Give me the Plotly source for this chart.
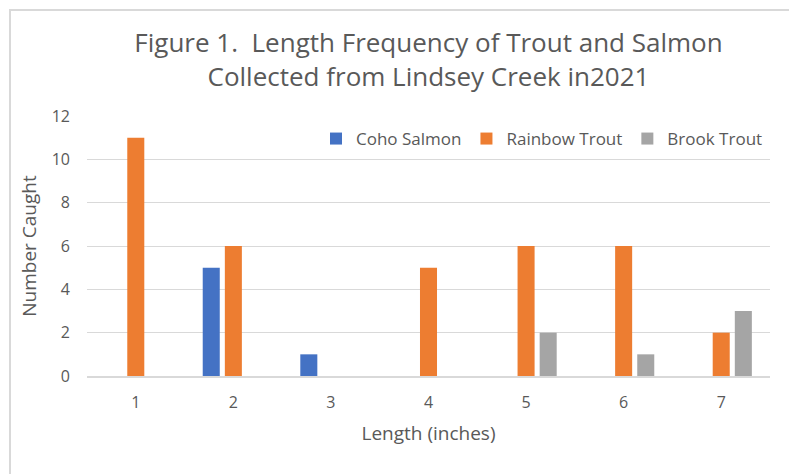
import plotly.graph_objects as go

categories = ["1", "2", "3", "4", "5", "6", "7"]
coho_salmon = [0, 5, 1, 0, 0, 0, 0]
rainbow_trout = [11, 6, 0, 5, 6, 6, 2]
brook_trout = [0, 0, 0, 0, 2, 1, 3]
y_ticks = [0, 2, 4, 6, 8, 10, 12]

FONT = "Open Sans"
TXT = "#595959"

fig = go.Figure()
fig.add_trace(go.Bar(name="Coho Salmon", x=categories, y=coho_salmon, marker_color="#4472C4", marker_line_width=0))
fig.add_trace(go.Bar(name="Rainbow Trout", x=categories, y=rainbow_trout, marker_color="#ED7D31", marker_line_width=0))
fig.add_trace(go.Bar(name="Brook Trout", x=categories, y=brook_trout, marker_color="#A5A5A5", marker_line_width=0))

W, H = 797, 474
OFF = 8  # page body margin
# plot area in screen pixels
SX0, SX1, SY0, SY1 = 87, 770, 116, 376
L, R, T, B = SX0 - OFF, W - (SX1 - OFF), SY0 - OFF, H - (SY1 - OFF)
pw, ph = SX1 - SX0, SY1 - SY0

def px_x(x):
    return (x - SX0) / pw

def px_y(y):
    return (SY1 - y) / ph

fig.update_layout(
    width=W, height=H,
    margin=dict(l=L, r=R, t=T, b=B, autoexpand=False),
    paper_bgcolor="white", plot_bgcolor="white",
    barmode="group", bargap=0.32, bargroupgap=0.23,
    font=dict(family=FONT, color=TXT, size=16),
    title=dict(
        text="Figure 1.  Length Frequency of Trout and Salmon<br>Collected from Lindsey Creek in2021",
        x=0.5, xanchor="center", xref="paper",
        y=1 - 44 / H, yanchor="top", yref="container",
        font=dict(family=FONT, size=26, color=TXT),
    ),
    legend=dict(
        orientation="h", x=px_x(768), xanchor="right", y=px_y(139), yanchor="middle",
        font=dict(size=17, color=TXT), bgcolor="rgba(0,0,0,0)",
    ),
    xaxis=dict(
        automargin=False,
        showgrid=False, showline=True, linecolor="#d9d9d9", linewidth=1.5,
        ticks="", ticklabelstandoff=11, tickfont=dict(size=16, color=TXT),
        title=dict(text="Length (inches)", font=dict(size=19, color=TXT), standoff=15),
    ),
    yaxis=dict(
        automargin=False,
        range=[0, 12], tickvals=y_ticks, showgrid=True, gridcolor="#d9d9d9", gridwidth=1,
        zeroline=False, showline=False, ticks="", ticklabelstandoff=16,
        tickfont=dict(size=16, color=TXT),
        title=dict(text="Number Caught", font=dict(size=19, color=TXT), standoff=10),
    ),
    shapes=[dict(
        type="rect", xref="paper", yref="paper",
        x0=px_x(10), x1=px_x(793), y0=px_y(500), y1=px_y(10),
        line=dict(color="#d9d9d9", width=2), fillcolor="rgba(0,0,0,0)", layer="below",
    )],
)

fig.write_html("out.html")
